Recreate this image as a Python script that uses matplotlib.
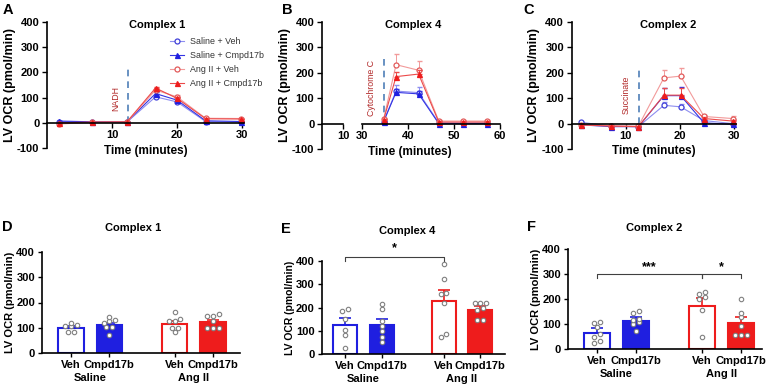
import numpy as np
import matplotlib
matplotlib.use('Agg')
import matplotlib.pyplot as plt

plt.rcParams['font.family'] = ['Liberation Sans', 'DejaVu Sans']
plt.rcParams['font.weight'] = 'bold'
plt.rcParams['axes.labelweight'] = 'bold'
plt.rcParams['axes.unicode_minus'] = False
plt.rcParams['axes.linewidth'] = 1.2

W, H = 769, 384

# ---------- time-course data (mean, upper SEM) ----------
series_names = ['Saline + Veh', 'Saline + Cmpd17b', 'Ang II + Veh', 'Ang II + Cmpd17b']

c1_time = [1.8, 6.9, 12.3, 16.7, 20.0, 24.4, 29.9]
c1_sal_veh = [5, 3, 3, 103, 83, 5, 3]
c1_sal_cmpd = [7, 4, 4, 116, 90, 8, 5]
c1_ang_veh = [-5, 2, 3, 130, 103, 18, 17]
c1_ang_cmpd = [0, 3, 4, 138, 97, 16, 15]
c1_err = [2, 1, 1, 6, 6, 2, 2]

c4_time = [34.7, 37.4, 42.3, 46.7, 52.0, 57.2]
c4_sal_veh = [8, 128, 122, 3, 2, 2]
c4_sal_cmpd = [8, 123, 117, 0, 0, 0]
c4_ang_veh = [17, 232, 210, 10, 10, 10]
c4_ang_cmpd = [15, 185, 195, 6, 6, 6]
c4_sal_veh_err = [2, 22, 22, 2, 2, 2]
c4_sal_cmpd_err = [2, 12, 12, 2, 2, 2]
c4_ang_veh_err = [4, 43, 36, 3, 3, 4]
c4_ang_cmpd_err = [4, 18, 16, 3, 3, 3]

c2_time = [1.7, 7.3, 12.3, 17.0, 20.1, 24.4, 29.7]
c2_sal_veh = [5, -10, -12, 72, 66, 12, 0]
c2_sal_cmpd = [-5, -12, -12, 110, 110, 3, -3]
c2_ang_veh = [-5, -8, -10, 180, 187, 28, 20]
c2_ang_cmpd = [-5, -10, -12, 112, 112, 20, 10]
c2_sal_veh_err = [3, 2, 2, 12, 12, 4, 3]
c2_sal_cmpd_err = [2, 2, 2, 32, 35, 3, 2]
c2_ang_veh_err = [2, 2, 2, 32, 33, 6, 8]
c2_ang_cmpd_err = [2, 2, 2, 28, 28, 5, 5]

# injection markers
inj_time = [12.5, 34.7, 12.4]
inj_top = [225, 255, 225]
inj_label = ['NADH', 'Cytochrome C', 'Succinate']
inj_text_y = [95, 140, 112]

# ---------- bar data ----------
bar_labels = ['Veh', 'Cmpd17b', 'Veh', 'Cmpd17b']
group_labels = ['Saline', 'Ang II']

d_mean = [100, 110, 115, 122]
d_sem = [6, 10, 12, 10]
d_pts = [[84, 84, 105, 107, 110, 120],
         [72, 103, 104, 120, 128, 131, 144],
         [84, 97, 97, 128, 128, 133, 164],
         [97, 97, 97, 125, 148, 148, 153]]

e_mean = [125, 125, 228, 189]
e_sem = [28, 24, 47, 17]
e_pts = [[25, 80, 103, 150, 183, 195],
         [50, 75, 100, 120, 140, 195, 215],
         [75, 86, 221, 258, 261, 321, 387],
         [146, 146, 189, 200, 221, 221, 221]]

f_mean = [67, 115, 175, 107]
f_sem = [17, 16, 29, 21]
f_pts = [[25, 35, 48, 60, 90, 105, 110],
         [72, 100, 110, 118, 122, 145, 155],
         [51, 157, 200, 211, 222, 228],
         [57, 57, 57, 93, 131, 147, 200]]

blue = '#1f1fe0'
red = '#ee1c1c'
line_styles = [
    dict(color='#8e8ef0', marker='o', mfc='white', mec='#4040d8'),
    dict(color='#3434e4', marker='^', mfc=blue, mec=blue),
    dict(color='#f29a9a', marker='o', mfc='white', mec='#e25a5a'),
    dict(color='#ec4a4a', marker='^', mfc=red, mec=red),
]


def rect(x0, x1, ytop, ybot):
    return [x0 / W, 1 - ybot / H, (x1 - x0) / W, (ybot - ytop) / H]


def fig_xy(x, y):
    return x / W, 1 - y / H


def style_axes(ax, ylim, yticks):
    for s in ['top', 'right']:
        ax.spines[s].set_visible(False)
    ax.set_ylim(*ylim)
    ax.set_yticks(yticks)
    ax.tick_params(labelsize=8, width=1, length=3.5, pad=2)


def bold_ticks(ax):
    for lab in ax.get_xticklabels() + ax.get_yticklabels():
        lab.set_fontweight('bold')


def draw_series(ax, t, means, errs):
    handles = []
    for m, e, st in zip(means, errs, line_styles):
        ax.errorbar(t, m, yerr=[np.zeros(len(e)), e], fmt='none', elinewidth=0.7,
                    capsize=1.8, ecolor=st['color'])
        h, = ax.plot(t, m, lw=0.8, ms=3.6, mew=0.9, **st)
        handles.append(h)
    return handles


def swarm_offsets(vals, step=0.15, tol=12):
    vals = np.asarray(vals, float)
    order = np.argsort(vals)
    offs = np.zeros(len(vals))
    cluster = [order[0]]
    for idx in order[1:]:
        if vals[idx] - vals[cluster[0]] <= tol:
            cluster.append(idx)
        else:
            n = len(cluster)
            offs[cluster] = (np.arange(n) - (n - 1) / 2) * step
            cluster = [idx]
    n = len(cluster)
    offs[cluster] = (np.arange(n) - (n - 1) / 2) * step
    return offs


fig = plt.figure(figsize=(W / 100, H / 100), dpi=100)

# ================= A: Complex 1 =================
axA = fig.add_axes(rect(47, 244, 22, 148))
style_axes(axA, (-100, 400), range(-100, 401, 100))
axA.spines['bottom'].set_position(('data', 0))
axA.set_xlim(0, 30.3)
axA.set_xticks([10, 20, 30])
hA = draw_series(axA, c1_time, [c1_sal_veh, c1_sal_cmpd, c1_ang_veh, c1_ang_cmpd], [c1_err] * 4)
axA.set_ylabel('LV OCR (pmol/min)', fontsize=9, labelpad=1)
axA.set_xlabel('Time (minutes)', fontsize=8.5, labelpad=3)
leg = axA.legend(hA, series_names, loc='upper left', bbox_to_anchor=fig_xy(170, 37),
                 bbox_transform=fig.transFigure, frameon=False,
                 prop=dict(size=6.4, weight='normal'), handlelength=1.6,
                 handletextpad=0.7, labelspacing=0.55, borderpad=0, borderaxespad=0)
for txt in leg.get_texts():
    txt.set_color('#333333')

# ================= B: Complex 4 (broken x axis) =================
axBl = fig.add_axes(rect(322, 343, 22, 149))
style_axes(axBl, (-100, 400), range(-100, 401, 100))
axBl.spines['bottom'].set_position(('data', 0))
axBl.set_xlim(5.4, 10)
axBl.set_xticks([10])
axBl.set_ylabel('LV OCR (pmol/min)', fontsize=9, labelpad=1)

axBr = fig.add_axes(rect(362, 500, 22, 149))
style_axes(axBr, (-100, 400), [])
axBr.spines['left'].set_visible(False)
axBr.spines['bottom'].set_position(('data', 0))
axBr.set_xlim(30, 60)
axBr.set_xticks([30, 40, 50, 60])
axBr.patch.set_alpha(0)
draw_series(axBr, c4_time, [c4_sal_veh, c4_sal_cmpd, c4_ang_veh, c4_ang_cmpd],
            [c4_sal_veh_err, c4_sal_cmpd_err, c4_ang_veh_err, c4_ang_cmpd_err])
fig.text(*fig_xy(410, 152), 'Time (minutes)', fontsize=8.5, ha='center', va='center')

# ================= C: Complex 2 =================
axC = fig.add_axes(rect(571.7, 736, 22, 149))
style_axes(axC, (-100, 400), range(-100, 401, 100))
axC.spines['bottom'].set_position(('data', 0))
axC.set_xlim(0, 30.3)
axC.set_xticks([10, 20, 30])
draw_series(axC, c2_time, [c2_sal_veh, c2_sal_cmpd, c2_ang_veh, c2_ang_cmpd],
            [c2_sal_veh_err, c2_sal_cmpd_err, c2_ang_veh_err, c2_ang_cmpd_err])
axC.set_ylabel('LV OCR (pmol/min)', fontsize=9, labelpad=1)
axC.set_xlabel('Time (minutes)', fontsize=8.5, labelpad=3)

# injection lines and labels
for ax, t, top, lab, ty in zip([axA, axBr, axC], inj_time, inj_top, inj_label, inj_text_y):
    ax.vlines(t, 0, top, colors='#4f7fb8', linestyles=(0, (4, 3)), lw=1.2, zorder=1)
    ax.annotate(lab, (t, ty), xytext=(-9, 0), textcoords='offset points',
                rotation=90, ha='center', va='center', fontsize=6.3,
                fontweight='normal', color='#b22a2a')

# titles top row
for x, lab in [(157, 'Complex 1'), (413, 'Complex 4'), (668, 'Complex 2')]:
    fig.text(*fig_xy(x, 25), lab, fontsize=8, ha='center', va='center')

# ================= bar panels =================
bar_pos = np.array([0, 1, 2.7, 3.7])
bar_face = ['white', blue, 'white', red]
bar_edge = [blue, blue, red, red]


def bar_panel(ax, means, sems, pts, xlim):
    for s in ['top', 'right']:
        ax.spines[s].set_visible(False)
    ax.bar(bar_pos, means, width=0.66, color=bar_face, edgecolor=bar_edge, lw=1.5, zorder=2)
    for x, m, e, c in zip(bar_pos, means, sems, bar_edge):
        ax.errorbar(x, m, yerr=[[0], [e]], fmt='none', ecolor=c, elinewidth=1.2,
                    capsize=4, capthick=1.2, zorder=3)
    for x, p in zip(bar_pos, pts):
        ax.plot(x + swarm_offsets(p), p, 'o', ms=3.2, mfc='white', mec='#808080',
                mew=0.8, zorder=4, clip_on=False)
    ax.set_xlim(*xlim)
    ax.set_ylim(0, 400)
    ax.set_yticks(range(0, 401, 100))
    ax.set_xticks(bar_pos)
    ax.set_xticklabels(bar_labels)
    ax.tick_params(labelsize=8, width=1, length=3, pad=2)
    for i, g in enumerate(group_labels):
        ax.annotate(g, ((bar_pos[2 * i] + bar_pos[2 * i + 1]) / 2, 0),
                    xycoords=('data', 'axes fraction'), xytext=(0, -18),
                    textcoords='offset points', ha='center', va='center', fontsize=8)


def bracket(ax, i, j, y, drop, label, star_y):
    ax.plot([bar_pos[i], bar_pos[i], bar_pos[j], bar_pos[j]], [y - drop, y, y, y - drop],
            color='#404040', lw=0.8, clip_on=False)
    ax.text((bar_pos[i] + bar_pos[j]) / 2, star_y, label, ha='center', va='center',
            fontsize=9, clip_on=False)


axD = fig.add_axes(rect(42, 240, 252.3, 352.7))
bar_panel(axD, d_mean, d_sem, d_pts, (-0.75, 4.4))
axD.set_ylabel('LV OCR (pmol/min)', fontsize=8, labelpad=1)

axE = fig.add_axes(rect(321.7, 505, 261, 354))
bar_panel(axE, e_mean, e_sem, e_pts, (-0.64, 4.38))
axE.set_ylabel('LV OCR (pmol/min)', fontsize=7.5, labelpad=1)
bracket(axE, 0, 2, 418, 18, '*', 455)

axF = fig.add_axes(rect(568, 762, 249.3, 349.3))
bar_panel(axF, f_mean, f_sem, f_pts, (-0.74, 4.24))
axF.set_ylabel('LV OCR (pmol/min)', fontsize=8, labelpad=1)
bracket(axF, 0, 2, 300, 16, '***', 330)
bracket(axF, 2, 3, 300, 16, '*', 330)

for ax in [axA, axBl, axBr, axC, axD, axE, axF]:
    bold_ticks(ax)

for x, y, lab in [(133, 228, 'Complex 1'), (407, 231, 'Complex 4'), (654, 228, 'Complex 2')]:
    fig.text(*fig_xy(x, y), lab, fontsize=8, ha='center', va='center')

# panel letters
for x, y, lab in [(3, 10, 'A'), (282, 10, 'B'), (523, 10, 'C'),
                  (2, 227, 'D'), (281, 229, 'E'), (527, 227, 'F')]:
    fig.text(*fig_xy(x, y), lab, fontsize=10.5, ha='left', va='center')

fig.savefig('out.png', dpi=100)
